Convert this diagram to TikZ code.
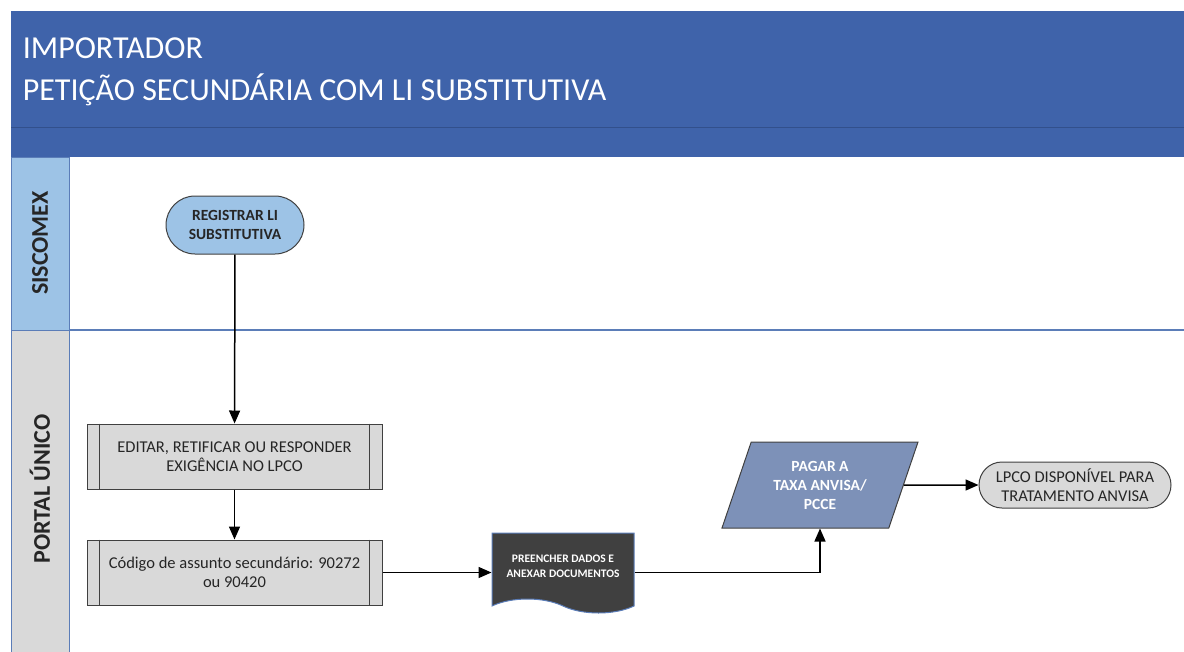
\documentclass[tikz,border=0pt]{standalone}
\usepackage{fontspec}
\setmainfont{Carlito}
\usetikzlibrary{positioning,arrows.meta,shapes.misc,shapes.geometric,shapes.symbols}

\definecolor{headblue}{RGB}{63,99,170}
\definecolor{headline}{RGB}{50,80,140}
\definecolor{lanelight}{RGB}{157,195,230}
\definecolor{lanegray}{RGB}{217,217,217}
\definecolor{laneline}{RGB}{91,125,184}
\definecolor{darkline}{RGB}{64,64,64}
\definecolor{payblue}{RGB}{125,145,184}
\definecolor{txt}{RGB}{38,38,38}

\tikzset{every picture/.style={line width=1pt}}
\tikzset{
  terminal/.style={rounded rectangle, draw=darkline, fill=#1, text=txt,
                   align=center, inner sep=3pt},
  terminal/.default={lanegray},
  process/.style={rectangle, draw=darkline, fill=lanegray, text=txt, align=center,
                  minimum width=295pt, minimum height=65pt,
                  font=\fontsize{16.5}{19.5}\selectfont},
  docshape/.style={tape, tape bend top=none, tape bend bottom=out and in,
                   tape bend height=14pt, draw=laneline, fill=darkline, text=white,
                   align=center, minimum width=142pt, minimum height=80pt,
                   font=\bfseries\fontsize{11.5}{15}\selectfont},
  inout/.style={trapezium, trapezium left angle=62, trapezium right angle=118,
                trapezium stretches body, draw=darkline, fill=payblue, text=white,
                align=center, minimum width=196pt, minimum height=86pt,
                font=\bfseries\fontsize{15.5}{19}\selectfont},
  lanetitle/.style={rotate=90, text=txt, font=\bfseries\fontsize{24}{27}\selectfont},
  flow/.style={-{Triangle[length=13pt,width=11pt]}, line width=1.5pt},
}
\def\W{1184}
\def\H{651}

\begin{document}
\begin{tikzpicture}[x=1pt,y=-1pt]
  \useasboundingbox (0,0) rectangle (\W,\H);
  \clip (0,0) rectangle (\W,\H);
  % header band
  \fill[headblue] (11,11) rectangle (\W+5,157);
  \draw[headline] (11,127) -- (\W+5,127);
  \node[anchor=base west, text=white, font=\fontsize{32}{36}\selectfont] (title) at (19,58) {IMPORTADOR};
  \node[anchor=base west, text=white, font=\fontsize{32}{36}\selectfont] (subtitle) at (19,100) {PETIÇÃO SECUNDÁRIA COM LI SUBSTITUTIVA};
  % lanes
  \draw[laneline, fill=lanelight] (11,157) rectangle (69,330);
  \draw[laneline, fill=lanegray] (11,330) rectangle (69,\H+5);
  \draw[laneline, line width=1.5pt] (69,330) -- (\W+5,330);
  \node[lanetitle] (siscomex) at (40,243) {SISCOMEX};
  \node[lanetitle] (portal) at (40,489) {PORTAL ÚNICO};

  % steps
  \node[terminal=lanelight, minimum width=144pt, minimum height=58pt,
        font=\bfseries\fontsize{15.5}{19}\selectfont] (reg) at (235,225) {REGISTRAR LI\\SUBSTITUTIVA};
  \node[process] (edit) at (234.5,456.5) {EDITAR, RETIFICAR OU RESPONDER\\EXIGÊNCIA NO LPCO};
  \node[process, below=50pt of edit] (code) {Código de assunto secundário: 90272\\ou 90420};
  \foreach \b in {edit,code} {
    \draw[darkline] ([xshift=13pt]\b.north west) -- ([xshift=13pt]\b.south west);
    \draw[darkline] ([xshift=-13pt]\b.north east) -- ([xshift=-13pt]\b.south east);
  }
  \node[docshape] (fill) at (563,566) {PREENCHER DADOS E\\ANEXAR DOCUMENTOS};
  \node[inout] (pay) at (820,485) {PAGAR A\\TAXA ANVISA/\\PCCE};
  \node[terminal, minimum width=198pt, minimum height=46pt,
        font=\fontsize{16.5}{19}\selectfont] (lpco) at (1075,485) {LPCO DISPONÍVEL PARA\\TRATAMENTO ANVISA};

  % connect steps
  \draw[flow] (reg) -- (edit);
  \draw[flow] (edit) -- (code);
  \draw[flow] (code.east) -- (code.east -| fill.west);
  \draw[flow] (fill.east |- code.east) -| (pay.south);
  \draw[flow] (pay) -- (lpco);
\end{tikzpicture}
\end{document}
